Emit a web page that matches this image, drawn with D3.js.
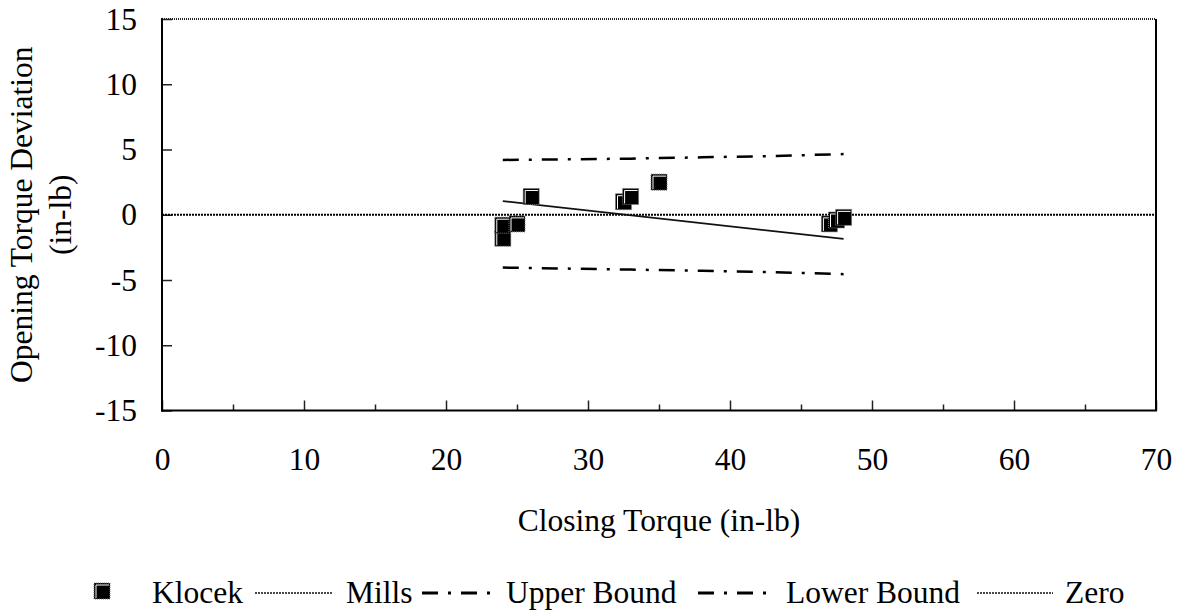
<!DOCTYPE html>
<html>
<head>
<meta charset="utf-8">
<script src="https://cdn.jsdelivr.net/npm/d3@7"></script>
<style>
  body { margin: 0; background: #fff; }
  text { font-family: "Liberation Serif", "Times New Roman", serif; fill: #000; }
</style>
</head>
<body>
<svg id="chart" width="1183" height="614"></svg>
<script>
// Klocek measurements
const klocekX = [24, 24, 25, 26, 32.5, 33, 35, 47, 47.5, 48];
const klocekY = [-1.8, -0.8, -0.7, 1.4, 1.0, 1.4, 2.5, -0.7, -0.4, -0.2];

// Mills fit line
const millsX = [24, 48];
const millsY = [1.05, -1.85];

// bounds
const boundX = [24, 33, 38, 43, 48];
const upperY = [4.2, 4.3, 4.4, 4.5, 4.65];
const lowerY = [-4.05, -4.2, -4.3, -4.4, -4.55];

const zeroX = [0, 70];
const zeroY = [0, 0];

const xTicks = [0, 10, 20, 30, 40, 50, 60, 70];
const xMinorTicks = [5, 15, 25, 35, 45, 55, 65];
const yTicks = [-15, -10, -5, 0, 5, 10, 15];

const legendItems = ["Klocek", "Mills", "Upper Bound", "Lower Bound", "Zero"];

const svg = d3.select("#chart");
const fontSize = 31.5;

const x = d3.scaleLinear().domain([0, 70]).range([162, 1156]);
const y = d3.scaleLinear().domain([-15, 15]).range([410.5, 19]);

// axes, ticks pointing inward; plain hyphen for negatives
const fmt = d => String(d);
const xAxis = svg.append("g")
  .attr("transform", `translate(0,${y(-15)})`)
  .call(d3.axisBottom(x).tickValues(xTicks).tickFormat(fmt).tickSizeInner(-10).tickSizeOuter(0).tickPadding(37));
const xMinor = svg.append("g")
  .attr("transform", `translate(0,${y(-15)})`)
  .call(d3.axisBottom(x).tickValues(xMinorTicks).tickSizeInner(-6).tickSizeOuter(0).tickFormat(""));
const yAxis = svg.append("g")
  .attr("transform", `translate(${x(0)},0)`)
  .call(d3.axisLeft(y).tickValues(yTicks).tickFormat(fmt).tickSizeInner(-10).tickSizeOuter(0).tickPadding(25));

[xAxis, xMinor, yAxis].forEach(g => {
  g.select(".domain").remove();
  g.selectAll(".tick line").attr("stroke", "#222").attr("stroke-width", 1.5);
  g.selectAll("text")
    .style("font-family", "'Liberation Serif', 'Times New Roman', serif")
    .style("font-size", fontSize + "px")
    .attr("fill", "#000");
});
yAxis.selectAll("text").attr("dy", "0.32em");

// frame
svg.append("line")
  .attr("x1", x(0)).attr("x2", x(70)).attr("y1", y(15)).attr("y2", y(15))
  .attr("stroke", "#222").attr("stroke-width", 2).attr("stroke-dasharray", "1 1");
svg.append("line")
  .attr("x1", x(70)).attr("x2", x(70)).attr("y1", y(15)).attr("y2", y(-15))
  .attr("stroke", "#000").attr("stroke-width", 2);
svg.append("line")
  .attr("x1", x(0)).attr("x2", x(0)).attr("y1", y(15) - 1).attr("y2", y(-15) + 1)
  .attr("stroke", "#000").attr("stroke-width", 2);
svg.append("line")
  .attr("x1", x(0) - 1).attr("x2", x(70) + 1).attr("y1", y(-15)).attr("y2", y(-15))
  .attr("stroke", "#000").attr("stroke-width", 2);

const line = d3.line().x(d => x(d[0])).y(d => y(d[1]));

// zero line
svg.append("path")
  .datum(d3.zip(zeroX, zeroY))
  .attr("d", line)
  .attr("fill", "none").attr("stroke", "#000").attr("stroke-width", 2)
  .attr("stroke-dasharray", "2 1");

// bounds
const dashDot = "16 10 3 10";
[upperY, lowerY].forEach(vals => {
  svg.append("path")
    .datum(d3.zip(boundX, vals))
    .attr("d", line)
    .attr("fill", "none").attr("stroke", "#000").attr("stroke-width", 2.5)
    .attr("stroke-dasharray", dashDot);
});

// Mills line
svg.append("path")
  .datum(d3.zip(millsX, millsY))
  .attr("d", line)
  .attr("fill", "none").attr("stroke", "#111").attr("stroke-width", 1.8);

// square marker
function drawSquare(g, cx, cy, s) {
  const h = s / 2;
  g.append("rect")
    .attr("x", cx - h).attr("y", cy - h).attr("width", s).attr("height", s)
    .attr("fill", "#000").attr("stroke", "#777").attr("stroke-width", 1)
    .attr("stroke-dasharray", "1 1");
  g.append("path")
    .attr("d", `M${cx - h + 2},${cy + h - 1}V${cy - h + 2}H${cx + h - 1}`)
    .attr("fill", "none").attr("stroke", "#fff").attr("stroke-width", 1);
}

const pts = svg.append("g");
d3.zip(klocekX, klocekY).forEach(d => drawSquare(pts, x(d[0]), y(d[1]), 16));

// axis titles
svg.append("text")
  .attr("x", (x(0) + x(70)) / 2).attr("y", 531)
  .attr("text-anchor", "middle")
  .style("font-size", fontSize + "px")
  .text("Closing Torque (in-lb)");

const yTitle = svg.append("text")
  .attr("transform", `translate(0,${(y(15) + y(-15)) / 2}) rotate(-90)`)
  .attr("text-anchor", "middle")
  .style("font-size", fontSize + "px");
yTitle.append("tspan").attr("x", 0).attr("y", 32).text("Opening Torque Deviation");
yTitle.append("tspan").attr("x", 0).attr("y", 71).text("(in-lb)");

// legend
const legend = svg.append("g");
const legY = 603;
const lineY = 593;
drawSquare(legend, 102, 591, 16);
const textX = [152, 346, 506, 786, 1065];
const keyLines = [null, [255, 333], [422, 497], [698, 772], [977, 1053]];
const keyStyles = [null,
  { dash: "2 1", w: 1.5, c: "#111" },
  { dash: dashDot, w: 3, c: "#000" },
  { dash: dashDot, w: 3, c: "#000" },
  { dash: "2 1", w: 1.5, c: "#111" }];
legendItems.forEach((name, i) => {
  if (keyLines[i]) {
    legend.append("line")
      .attr("x1", keyLines[i][0]).attr("x2", keyLines[i][1])
      .attr("y1", lineY).attr("y2", lineY)
      .attr("stroke", keyStyles[i].c).attr("stroke-width", keyStyles[i].w)
      .attr("stroke-dasharray", keyStyles[i].dash);
  }
  legend.append("text")
    .attr("x", textX[i]).attr("y", legY)
    .style("font-size", fontSize + "px")
    .text(name);
});
</script>
</body>
</html>
